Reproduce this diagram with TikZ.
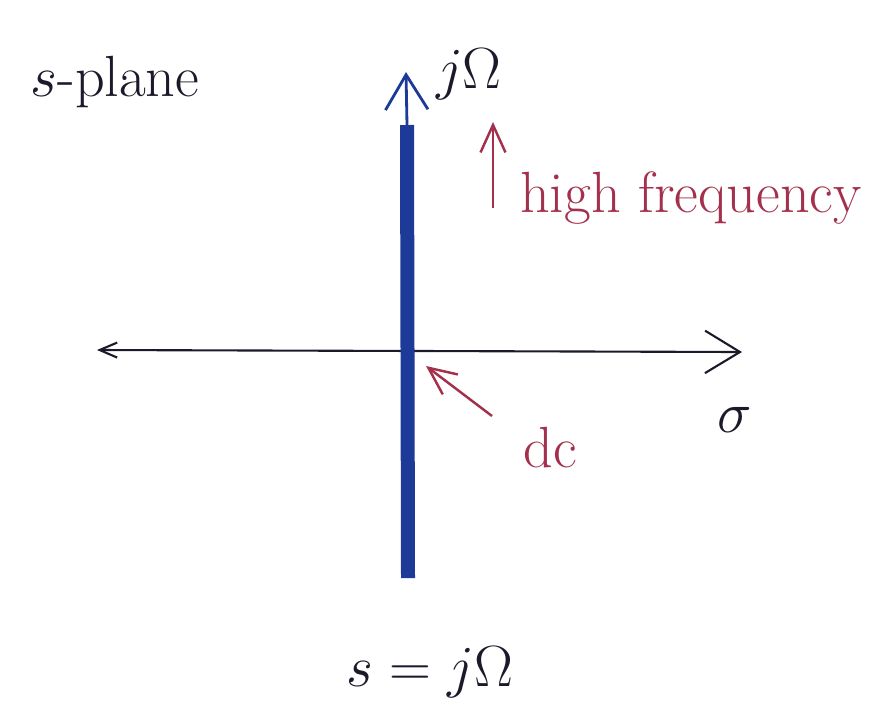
\documentclass[tikz,border=0pt]{standalone}
\usepackage{amsmath,amssymb}
\usepackage{graphicx}
\usepackage{xcolor}
\usepackage{tikz}
\usetikzlibrary{arrows.meta,positioning}
\definecolor{penblue}{HTML}{1E3A98}
\definecolor{penred}{HTML}{A3304C}
\definecolor{penink}{HTML}{1A1A2A}
\newcommand{\bigtext}[1]{\scalebox{1.33}{#1}}

\begin{document}
\begin{tikzpicture}[x=0.02cm,y=-0.02cm,>=Straight Barb]
\tikzset{lbl/.style={font=\fontsize{24.88}{28}\selectfont,inner sep=1pt,text=penink},
  redlbl/.style={lbl,text=penred},
  bigtip/.style={-{Straight Barb[length=0.7cm,width=0.85cm]}},
  redtip/.style={-{Straight Barb[length=0.55cm,width=0.5cm]},penred,line width=1.4pt}}
\useasboundingbox (0,0) rectangle (871,714);
% axes
\coordinate (west) at (97,350);
\coordinate (east) at (742,352);
\coordinate (south) at (408,578);
\coordinate (shaft) at (407,125);
\coordinate (north) at (406,72);
\coordinate (origin) at (426,366);
\draw[{Straight Barb[length=0.35cm,width=0.3cm]}-{Straight Barb[length=0.7cm,width=0.85cm]},penink,line width=1.2pt] (west) -- (east);
\draw[penblue,line width=0.28cm] (south) -- (shaft);
\draw[bigtip,penblue,line width=1.6pt] (shaft) -- (north);
% labels
\node[lbl] (splane) at (115,82) {\bigtext{$s$-plane}};
\node[lbl,anchor=west] (jomega) at (434,74) {\bigtext{$j\Omega$}};
\node[lbl] (sigma) at (735,420) {\bigtext{$\sigma$}};
\node[redlbl,anchor=west] (hf) at (518,198) {\bigtext{high frequency}};
\node[redlbl] (dc) at (550,448) {\bigtext{dc}};
\node[lbl] (seq) at (430,672) {\bigtext{$s = j\Omega$}};
% red pointers
\coordinate (hfbase) at (493,208);
\coordinate (hftip) at (493,122);
\coordinate (dcbase) at (492,416);
\draw[redtip] (hfbase) -- (hftip);
\draw[redtip] (dcbase) -- (origin);
\end{tikzpicture}
\end{document}
